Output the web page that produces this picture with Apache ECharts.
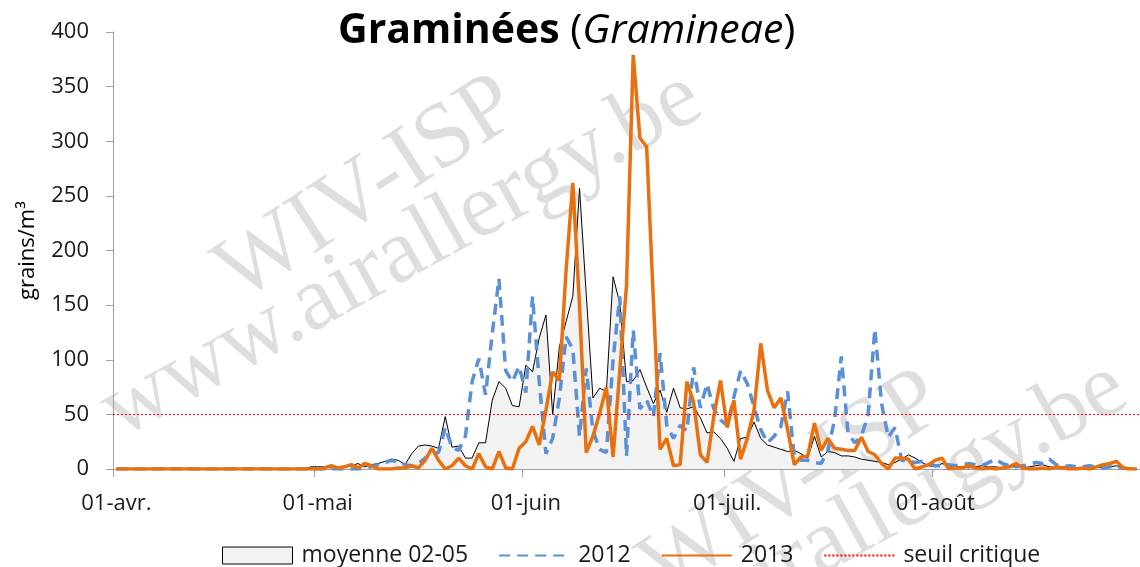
<!DOCTYPE html>
<html><head><meta charset="utf-8">
<script src="https://cdn.jsdelivr.net/npm/echarts@6/dist/echarts.min.js"></script>
<style>html,body{margin:0;padding:0;background:#fff}#c{width:1140px;height:567px}</style>
</head><body><div id="c"></div>
<script>
// Months shown on the x axis (daily categories, 01-avr. .. 31-août)
const months = ['avr.', 'mai', 'juin', 'juil.', 'août'];
const monthLengths = [30, 31, 30, 31, 31];

// moyenne 02-05 (grains/m³), one value per day from 1 April
const moyenne = [
  0,0,0,0,0,0,0,0,0,0,
  0,0,0,0,0,0,0,0,0,0,
  1,0,0,0,0,0,0,0,0,2,
  2,2,1,2,2,3,5,2,4,5,
  7,9,8,4,14,21,22,21,19,48,
  20,21,10,10,24,24,63,80,74,58,
  57,95,89,120,141,50,112,135,158,257,
  160,65,74,71,176,152,80,81,91,75,
  60,72,52,74,56,55,57,47,33,34,
  28,19,7,28,29,43,28,22,20,18,
  16,17,14,10,30,11,16,15,12,12,
  11,9,8,7,6,4,6,9,13,10,
  6,3,2,5,3,2,2,1,2,3,
  2,2,1,2,2,1,2,3,4,2,
  1,2,1,1,1,1,2,1,2,3,
  1,1,0
];

// 2012
const y2012 = [
  0,0,0,0,0,0,0,0,0,0,
  0,0,0,0,0,0,0,0,0,0,
  0,0,0,0,0,0,0,0,0,0,
  0,0,0,0,0,0,0,1,2,4,
  6,8,6,4,3,5,10,14,15,38,
  20,17,30,80,101,68,124,174,90,80,
  94,70,158,80,14,28,65,121,110,30,
  92,35,18,15,100,158,12,127,55,63,
  48,106,40,28,40,35,93,56,78,55,
  45,40,66,90,78,57,36,24,30,39,
  71,11,8,8,6,5,17,45,103,33,
  24,30,50,128,60,29,38,8,7,6,
  7,5,3,3,4,3,4,5,4,3,
  6,9,5,3,2,3,4,6,5,9,
  4,2,3,2,2,3,2,1,2,1,
  1,0,0
];

// 2013
const y2013 = [
  0,0,0,0,0,0,0,0,0,0,
  0,0,0,0,0,0,0,0,0,0,
  0,0,0,0,0,0,0,0,0,0,
  0,1,3,1,2,4,1,5,3,0,
  0,0,1,1,3,1,8,19,8,0,
  3,10,3,0,14,2,0,16,1,0,
  19,25,39,22,54,89,81,182,262,150,
  15,30,51,75,11,90,168,379,303,295,
  155,18,28,3,4,80,61,13,6,48,
  81,38,63,9,28,54,115,72,56,65,
  36,4,11,12,42,17,28,19,18,17,
  17,29,16,13,5,0,10,10,9,0,
  2,4,8,10,0,1,1,3,1,0,
  1,0,1,2,5,1,0,0,1,0,
  2,1,0,0,1,0,2,4,5,7,
  1,0,0
];

const seuilCritique = 50;
const yMin = 0, yMax = 400, yStep = 50;

// category labels "dd-mois"
const categories = [];
months.forEach((m, i) => {
  for (let d = 1; d <= monthLengths[i]; d++) {
    categories.push((d < 10 ? '0' + d : '' + d) + '-' + m);
  }
});
const isFirst = (idx) => categories[idx].startsWith('01-');

const FONT = 'Open Sans';
const chart = echarts.init(document.getElementById('c'), null, {renderer: 'canvas'});

const wmColor = 'rgba(0,0,0,0.13)';
const wmFont = 'Liberation Serif';
function wm(text, x, y, size, rotDeg) {
  return {
    type: 'text', x: x, y: y, rotation: rotDeg * Math.PI / 180, z: 0, silent: true,
    style: { text: text, fill: wmColor, font: size + 'px "' + wmFont + '"', textAlign: 'center', textVerticalAlign: 'middle' }
  };
}

const hideSymbol = { opacity: 0 };

chart.setOption({
  animation: false,
  backgroundColor: '#fff',
  title: {
    left: 333, top: 6,
    text: '{b|Graminées} {p|(}{i|Gramineae}{p|)}',
    textStyle: {
      fontFamily: FONT, fontSize: 41, color: '#000',
      rich: {
        b: { fontFamily: FONT, fontSize: 41, fontWeight: 'bold', color: '#000' },
        p: { fontFamily: FONT, fontSize: 41, fontWeight: 'normal', color: '#000' },
        i: { fontFamily: FONT, fontSize: 41, fontWeight: 'normal', fontStyle: 'italic', color: '#000' }
      }
    }
  },
  graphic: [
    wm('WIV-ISP', 368, 190, 92, 33),
    wm('www.airallergy.be', 402, 255, 92, 29),
    wm('WIV-ISP', 793, 485, 92, 33),
    wm('www.airallergy.be', 827, 545, 92, 29)
  ],
  grid: { left: 113, right: 0, top: 32, bottom: 98, containLabel: false },
  legend: {
    left: 217, top: 539,
    itemWidth: 70, itemHeight: 17, itemGap: 30,
    textStyle: { fontFamily: FONT, fontSize: 23, color: '#1a1a1a', padding: [0, 0, 0, 4] },
    data: [
      { name: 'moyenne 02-05', icon: 'rect', itemStyle: { color: '#f2f2f2', borderColor: '#000', borderWidth: 1 } },
      { name: '2012', itemStyle: hideSymbol },
      { name: '2013', itemStyle: hideSymbol },
      { name: 'seuil critique', itemStyle: hideSymbol }
    ]
  },
  xAxis: {
    type: 'category', data: categories, boundaryGap: true,
    axisLine: { lineStyle: { color: '#a0a0a0', width: 1 } },
    axisTick: { show: true, length: 8, interval: (i) => isFirst(i), lineStyle: { color: '#a0a0a0' } },
    axisLabel: { interval: (i) => isFirst(i), margin: 24, fontFamily: FONT, fontSize: 22, color: '#1a1a1a' },
    splitLine: { show: false }
  },
  yAxis: {
    type: 'value', min: yMin, max: yMax, interval: yStep,
    name: 'grains/m³', nameLocation: 'middle', nameGap: 74, nameRotate: 90,
    nameTextStyle: { fontFamily: FONT, fontSize: 22, color: '#000' },
    axisLine: { show: true, lineStyle: { color: '#a0a0a0', width: 1 } },
    axisTick: { show: true, length: 7, lineStyle: { color: '#a0a0a0' } },
    axisLabel: { margin: 24, fontFamily: FONT, fontSize: 22, color: '#1a1a1a' },
    splitLine: { show: false }
  },
  series: [
    {
      name: 'moyenne 02-05', type: 'line', data: moyenne, symbol: 'none', z: 2,
      lineStyle: { color: '#000', width: 1 },
      itemStyle: { color: '#f2f2f2', borderColor: '#000' },
      areaStyle: { color: '#f2f2f2', opacity: 1 }
    },
    {
      name: '2012', type: 'line', data: y2012, symbol: 'none', z: 3,
      lineStyle: { color: '#5b8fd6', width: 3.5, type: [11, 7] },
      itemStyle: { color: '#5b8fd6' }
    },
    {
      name: '2013', type: 'line', data: y2013, symbol: 'none', z: 4,
      lineStyle: { color: '#e8700f', width: 3.5 },
      itemStyle: { color: '#e8700f' }
    },
    {
      name: 'seuil critique', type: 'line', data: [], symbol: 'none', z: 5,
      lineStyle: { color: '#ff0000', width: 1, type: [2, 2] },
      itemStyle: { color: '#ff0000' },
      markLine: {
        silent: true, symbol: 'none', label: { show: false },
        lineStyle: { color: '#ff0000', width: 1, type: [2, 2] },
        data: [{ yAxis: seuilCritique }]
      }
    }
  ]
});
</script></body></html>
